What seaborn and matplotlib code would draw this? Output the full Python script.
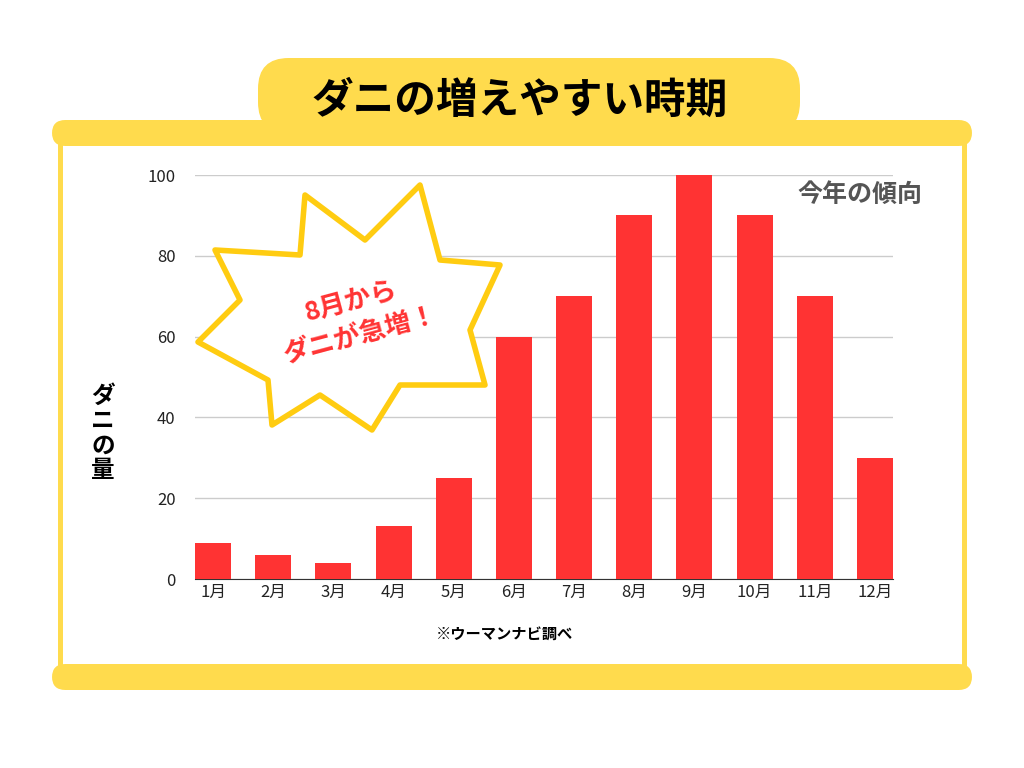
import matplotlib
matplotlib.use("Agg")
import matplotlib.pyplot as plt
import seaborn as sns
import numpy as np
import pandas as pd
from matplotlib.patches import FancyBboxPatch, Polygon

months = ["1月","2月","3月","4月","5月","6月","7月","8月","9月","10月","11月","12月"]
values = [9, 6, 4, 13, 25, 60, 70, 90, 100, 90, 70, 30]

plt.rcParams["font.family"] = "Noto Sans CJK JP"
W, H = 1024, 768
fig = plt.figure(figsize=(10.24, 7.68), dpi=100)
fig.patch.set_facecolor("white")

def fx(x): return x / W
def fy(y): return 1 - y / H

YEL = "#FFDB4D"
# frame
for yc in (133, 677):
    fig.patches.append(FancyBboxPatch((fx(52), fy(yc + 13)), fx(920), 26 / H,
        boxstyle="round,pad=0,rounding_size=0.013", transform=fig.transFigure,
        facecolor=YEL, edgecolor="none", mutation_aspect=W / H, zorder=1))
for xc in (60, 964):
    fig.patches.append(plt.Rectangle((fx(xc - 2.5), fy(677)), 5 / W, 544 / H,
        transform=fig.transFigure, facecolor=YEL, edgecolor="none", zorder=1))
fig.patches.append(FancyBboxPatch((fx(258), fy(133)), fx(542), 75 / H,
    boxstyle="round,pad=0,rounding_size=0.03", transform=fig.transFigure,
    facecolor=YEL, edgecolor="none", mutation_aspect=W / H, zorder=1))
fig.text(fx(520), fy(101), "ダニの増えやすい時期", ha="center", va="center",
         fontsize=30, fontweight="bold", color="black")

ax = fig.add_axes([fx(195), fy(579), fx(893 - 195), (579 - 175) / H])
df = pd.DataFrame({"month": months, "value": values})
sns.barplot(data=df, x="month", y="value", color="#FF3333", saturation=1,
            width=0.6, ax=ax, zorder=3)
ax.set_xlim(-0.3, 11.3)
ax.set_ylim(0, 100)
ax.set_yticks([0, 20, 40, 60, 80, 100])
ax.yaxis.grid(True, color="#CCCCCC", linewidth=1, zorder=0)
ax.set_axisbelow(True)
for s in ["top", "right", "left"]:
    ax.spines[s].set_visible(False)
ax.spines["bottom"].set_color("#333333")
ax.tick_params(axis="both", length=0, labelsize=12, colors="#222222")
ax.tick_params(axis="y", pad=14)
ax.set_xlabel("")
ax.set_ylabel("")

fig.text(fx(103), fy(433), "ダ\nニ\nの\n量", ha="center", va="center",
         fontsize=17, fontweight="bold", linespacing=1.05)
fig.text(fx(505), fy(634), "※ウーマンナビ調べ", ha="center", va="center",
         fontsize=11, fontweight="bold")
fig.text(fx(860), fy(195), "今年の傾向", ha="center", va="center",
         fontsize=18, fontweight="bold", color="#555555")

# starburst
pts = [(198, 342), (268, 380), (272, 425), (320, 395), (372, 430), (400, 385),
       (485, 385), (470, 330), (500, 265), (440, 260), (420, 185), (365, 240),
       (305, 195), (300, 255), (215, 250), (240, 300)]
poly = Polygon([(fx(x), fy(y)) for x, y in pts], closed=True,
               transform=fig.transFigure, facecolor="white", edgecolor="#FFCC11",
               linewidth=4, joinstyle="round", zorder=5)
fig.patches.append(poly)
fig.text(fx(355), fy(318), "8月から\nダニが急増！", ha="center", va="center",
         fontsize=19, fontweight="bold", color="#FF3333", rotation=15,
         linespacing=1.4, zorder=6)

fig.savefig("out.png", dpi=100, facecolor="white")
